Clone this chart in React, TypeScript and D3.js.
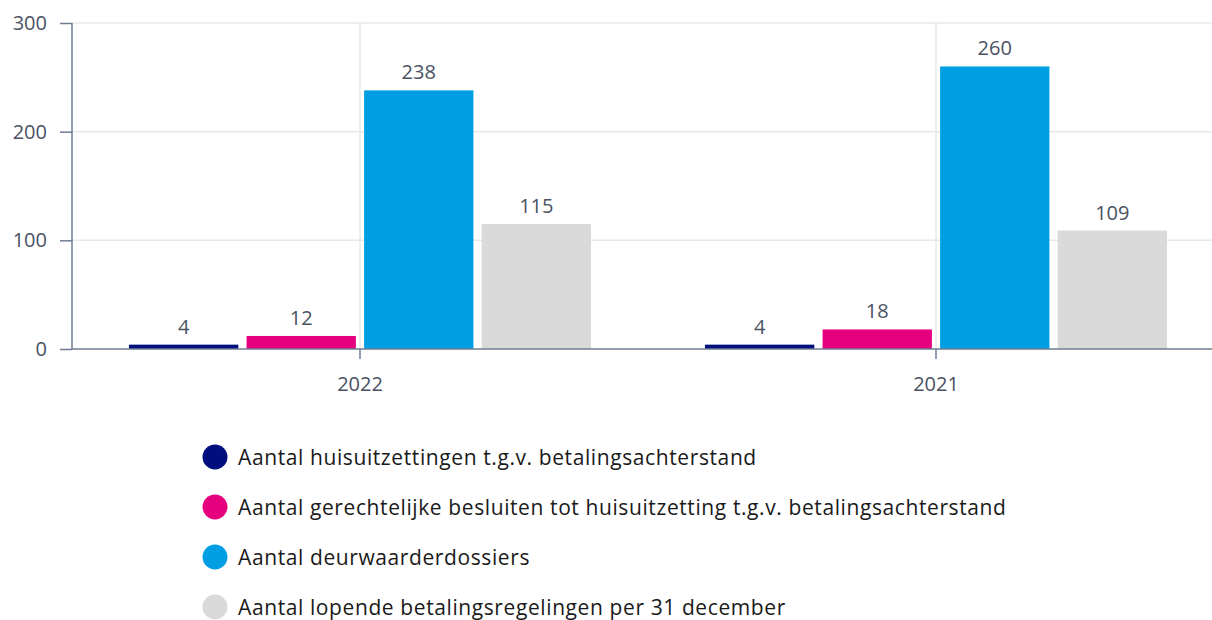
import { useRef, useEffect } from 'react'
import * as d3 from 'd3'

const years = ['2022', '2021']
const seriesNames = [
  'Aantal huisuitzettingen t.g.v. betalingsachterstand',
  'Aantal gerechtelijke besluiten tot huisuitzetting t.g.v. betalingsachterstand',
  'Aantal deurwaarderdossiers',
  'Aantal lopende betalingsregelingen per 31 december',
]
const seriesColors = ['#000f7d', '#e5007e', '#009fe3', '#dadada']
// values per series, in the order of years
const evictions = [4, 4]
const courtDecisions = [12, 18]
const bailiffFiles = [238, 260]
const paymentPlans = [115, 109]
const yTicks = [0, 100, 200, 300]

const W = 1212
const H = 620

const App = () => {
  const svgRef = useRef<SVGSVGElement>(null)

  useEffect(() => {
    const series = [evictions, courtDecisions, bailiffFiles, paymentPlans]
    const margin = { top: 23, left: 72 }
    const plotW = 1152
    const plotBottom = 349

    const svg = d3.select(svgRef.current)
    svg.selectAll('*').remove()

    const x = d3.scaleBand().domain(years).range([margin.left, margin.left + plotW])
    const inner = d3.scaleBand()
      .domain(d3.range(series.length).map(String))
      .range([0, 462])
      .paddingInner(0.07)
    const y = d3.scaleLinear().domain([0, 300]).range([plotBottom, margin.top])

    const font = '"Open Sans", sans-serif'
    const axisColor = '#6e7c91'
    const textColor = '#4a5263'

    // horizontal grid
    svg.append('g')
      .selectAll('line')
      .data(yTicks.filter(d => d > 0))
      .join('line')
      .attr('x1', margin.left).attr('x2', W)
      .attr('y1', d => y(d)).attr('y2', d => y(d))
      .attr('stroke', '#e6e8ec').attr('stroke-width', 1.5)

    // vertical grid at category centers
    svg.append('g')
      .selectAll('line')
      .data(years)
      .join('line')
      .attr('x1', d => x(d)! + x.bandwidth() / 2).attr('x2', d => x(d)! + x.bandwidth() / 2)
      .attr('y1', margin.top).attr('y2', plotBottom)
      .attr('stroke', '#e6e8ec').attr('stroke-width', 1.5)

    // bars
    const groups = svg.append('g')
      .selectAll('g')
      .data(years)
      .join('g')
      .attr('transform', d => `translate(${x(d)! + x.bandwidth() / 2 - 231},0)`)

    groups.each(function (_, yi) {
      const g = d3.select(this)
      series.forEach((vals, si) => {
        const v = vals[yi]
        const bx = inner(String(si))!
        g.append('rect')
          .attr('x', bx)
          .attr('y', y(v))
          .attr('width', inner.bandwidth())
          .attr('height', plotBottom - y(v))
          .attr('fill', seriesColors[si])
        g.append('text')
          .attr('x', bx + inner.bandwidth() / 2)
          .attr('y', y(v) - 11)
          .attr('text-anchor', 'middle')
          .attr('font-family', font)
          .attr('font-size', 20)
          .attr('fill', textColor)
          .text(v)
      })
    })

    // y axis
    const yAxis = svg.append('g')
      .attr('transform', `translate(${margin.left},0)`)
      .call(d3.axisLeft(y).tickValues(yTicks).tickSize(12).tickPadding(13))
    yAxis.select('.domain').attr('stroke', axisColor).attr('stroke-width', 1.5)
      .attr('d', `M0,${margin.top}V${plotBottom}`)
    yAxis.selectAll('.tick line').attr('stroke', axisColor).attr('stroke-width', 1.5)
    yAxis.selectAll('.tick text')
      .attr('font-family', font).attr('font-size', 20).attr('fill', textColor)

    // x axis
    const xAxis = svg.append('g')
      .attr('transform', `translate(0,${plotBottom})`)
      .call(d3.axisBottom(x).tickSize(10).tickPadding(18))
    xAxis.select('.domain').attr('stroke', axisColor).attr('stroke-width', 1.5)
      .attr('d', `M${margin.left},0H${W}`)
    xAxis.selectAll('.tick line').attr('stroke', axisColor).attr('stroke-width', 1.5)
    xAxis.selectAll('.tick text')
      .attr('font-family', font).attr('font-size', 20).attr('fill', textColor)

    // legend
    const legend = svg.append('g')
      .selectAll('g')
      .data(seriesNames)
      .join('g')
      .attr('transform', (_, i) => `translate(215,${457 + i * 50})`)
    legend.append('circle').attr('r', 12.5).attr('fill', (_, i) => seriesColors[i])
    legend.append('text')
      .attr('x', 23)
      .attr('dy', '0.4em')
      .attr('font-family', font)
      .attr('font-size', 21)
      .attr('letter-spacing', 0.6)
      .attr('fill', '#1a1a1a')
      .text(d => d)
  }, [])

  return (
    <svg ref={svgRef} width={W} height={H}
      style={{ position: 'absolute', left: 0, top: 0, background: '#fff' }} />
  )
}

export default App
